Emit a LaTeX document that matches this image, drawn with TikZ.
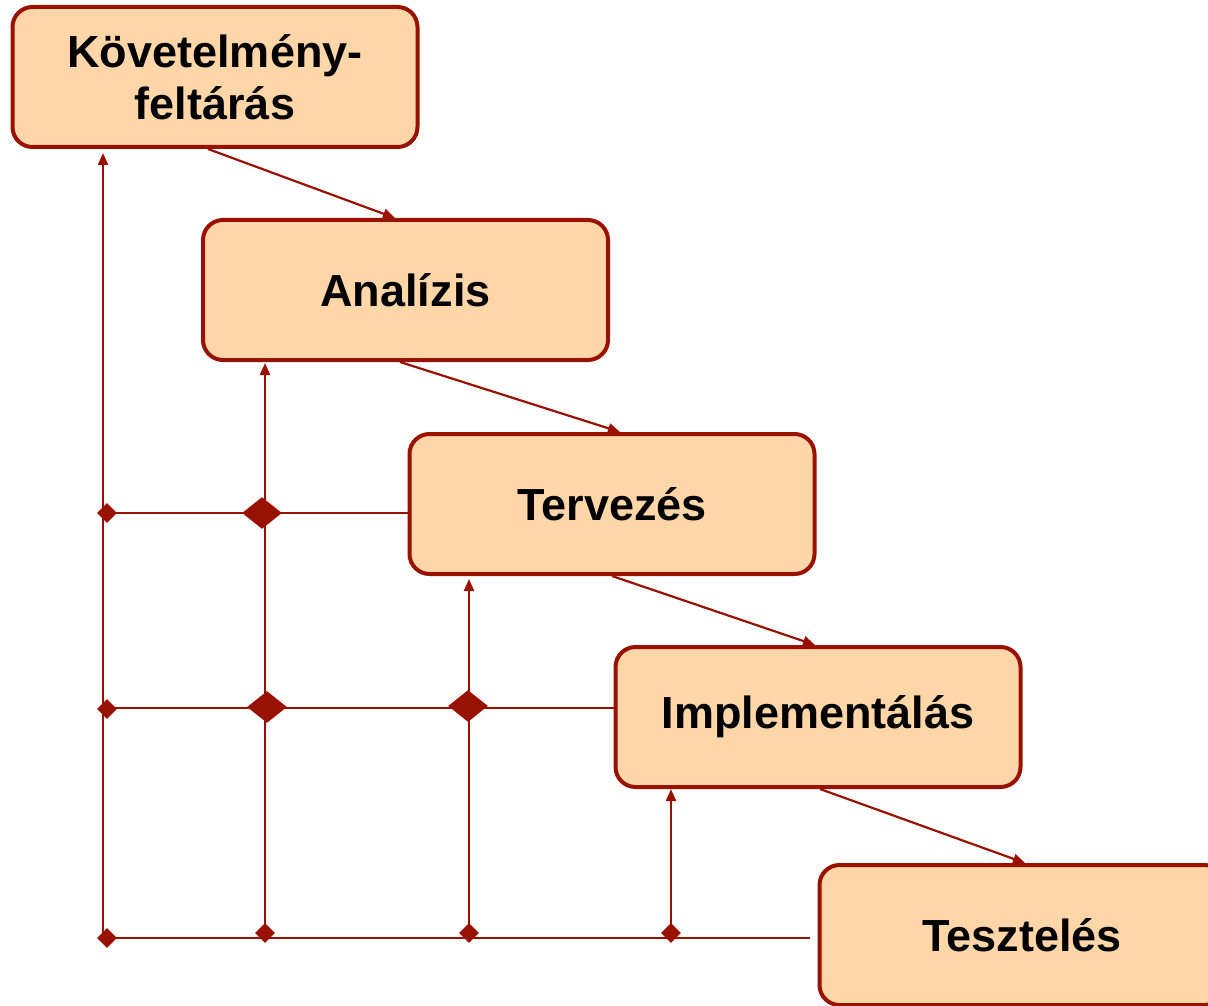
\documentclass[tikz,border=0pt]{standalone}
\usepackage{fontspec}
\setmainfont{Liberation Sans}
\usetikzlibrary{arrows.meta,shapes.geometric}
\definecolor{lineRed}{RGB}{153,17,0}
\definecolor{boxFill}{RGB}{255,214,168}

\begin{document}
\begin{tikzpicture}[x=0.5pt,y=-0.5pt]
	\tikzstyle{phase}=[draw=lineRed, line width=2pt, fill=boxFill, rounded corners=10pt, align=center, minimum width=202.5pt, minimum height=70pt]
    % bold sans labels
	\tikzstyle{phase}+=[font=\fontsize{22.5}{26}\selectfont\bfseries]

	\tikzstyle{flow}=[draw=lineRed, line width=1.1pt, -{Triangle[length=6pt,width=5pt]}]
	\tikzstyle{link}=[draw=lineRed, line width=1.1pt]

	\tikzstyle{joint}=[diamond, fill=lineRed, inner sep=0pt, minimum width=10pt, minimum height=10pt]
	\tikzstyle{bigjoint}=[joint, minimum width=20pt, minimum height=16pt]

	\useasboundingbox (0,0) rectangle (1208,1005);

	\node[phase] (kovet) at (215,77) {Követelmény-\\feltárás};
	\node[phase] (analizis) at (405.5,290) {Analízis};
	\node[phase] (terv) at (612,504) {Tervezés};
	\node[phase] (impl) at (818,717) {Implementálás};
	\node[phase] (teszt) at (1022,935) {Tesztelés};

	% the waterfall
	\draw[flow] ([xshift=-3.5pt] kovet.south) -- ([xshift=-5.25pt] analizis.north);
	\draw[flow] ([xshift=-2.75pt] analizis.south) -- ([xshift=4pt] terv.north);
	\draw[flow] (terv.south) -- ([xshift=-1.5pt] impl.north);
	\draw[flow] ([xshift=1pt] impl.south) -- ([xshift=1.5pt] teszt.north);

	% feedback lines
	\coordinate (b1) at (103,938);
	\coordinate (b2) at (265,933);
	\coordinate (b3) at (469,933);
	\coordinate (b4) at (671,933);

	\draw[flow] (b1) -- ([yshift=-2pt] b1 |- kovet.south);
	\draw[flow] (b2) -- ([yshift=-0.5pt] b2 |- analizis.south);
	\draw[flow] (b3) -- ([yshift=-1.5pt] b3 |- terv.south);
	\draw[flow] (b4) -- (b4 |- impl.south);

	\draw[link] ([yshift=-4.5pt] b1 |- terv.west) -- ([yshift=-4.5pt] terv.west);
	\draw[link] ([yshift=4.5pt] b1 |- impl.west) -- ([yshift=4.5pt] impl.west);
	\draw[link] (b1) -- ([xshift=-4pt] teszt.west |- b1);

	\node[joint] (j11) at (107,513) {};
	\node[bigjoint] (j12) at (262,513) {};
	\node[joint] (j21) at (107,709) {};
	\node[bigjoint] (j22) at (267,707) {};
	\node[bigjoint] (j23) at (468,706) {};
	\node[joint] (j31) at (107,938) {};
	\node[joint] (j32) at (265,933) {};
	\node[joint] (j33) at (469,933) {};
	\node[joint] (j34) at (671,933) {};
\end{tikzpicture}
\end{document}
